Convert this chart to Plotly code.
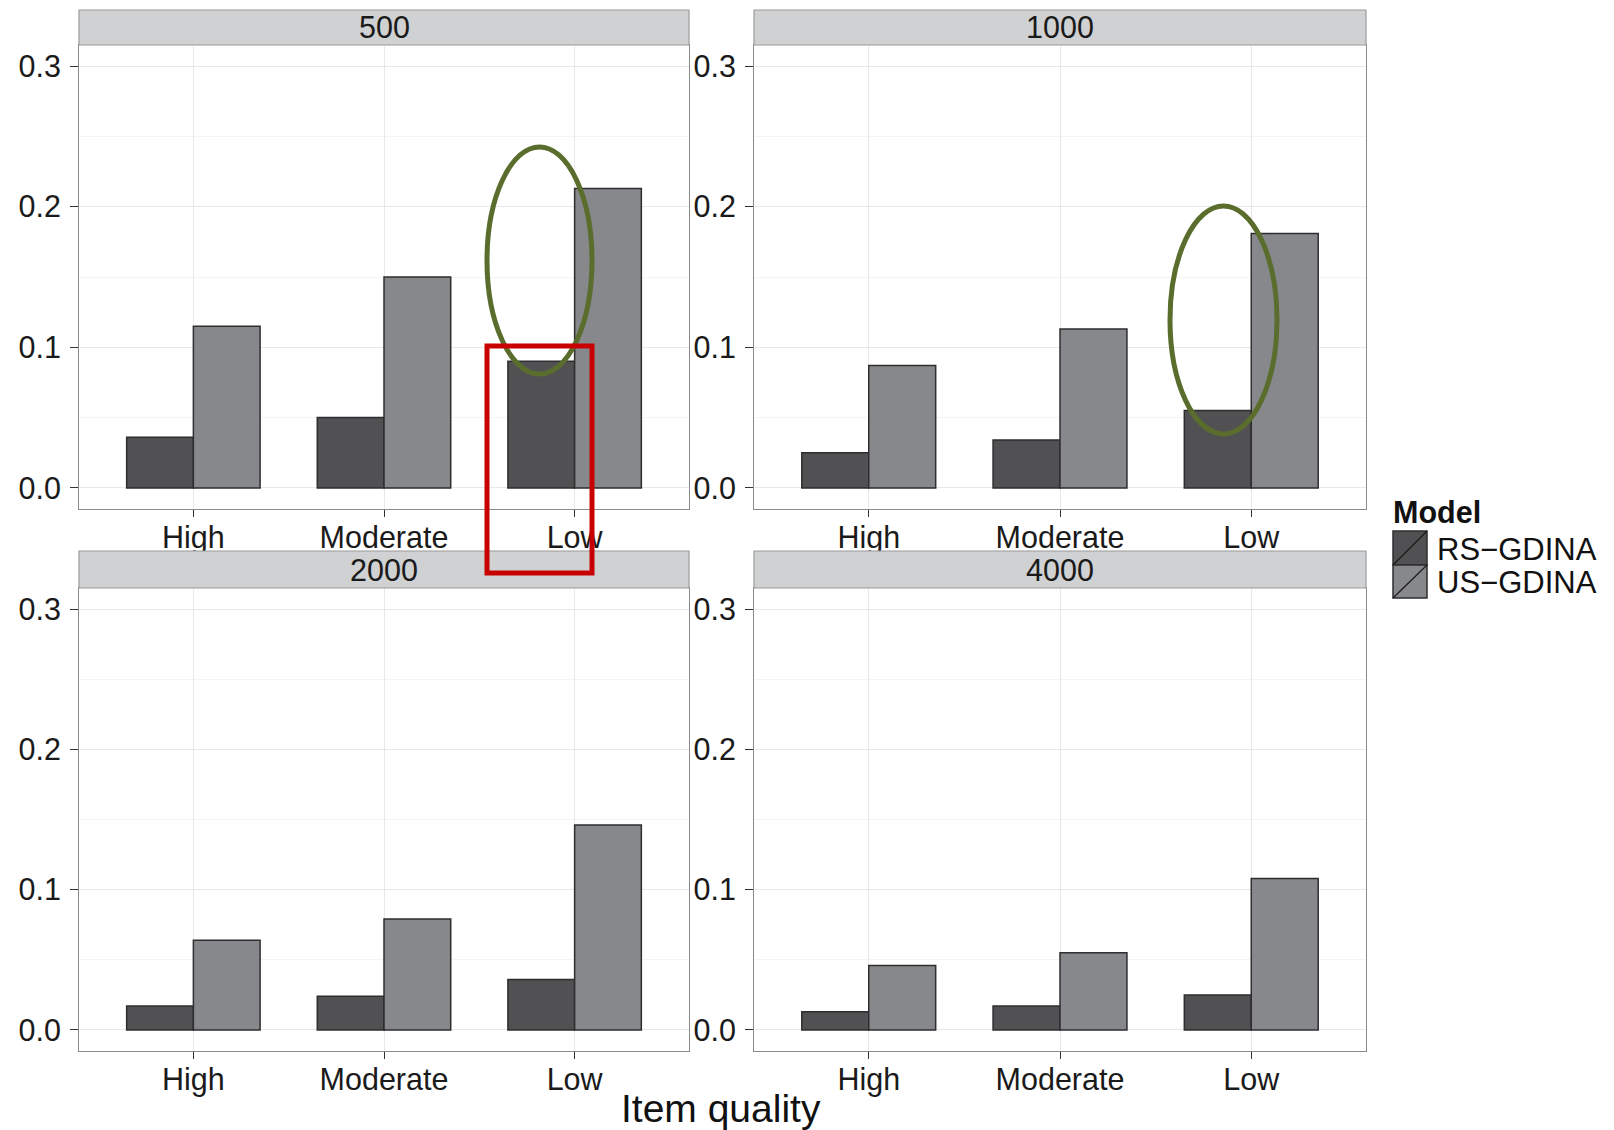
import plotly.graph_objects as go

# ---------------- data ----------------
categories = ["High", "Moderate", "Low"]
sample_sizes = ["500", "1000", "2000", "4000"]
models = ["RS\u2212GDINA", "US\u2212GDINA"]

rs_500 = [0.036, 0.050, 0.090]
us_500 = [0.115, 0.150, 0.213]
rs_1000 = [0.025, 0.034, 0.055]
us_1000 = [0.087, 0.113, 0.181]
rs_2000 = [0.017, 0.024, 0.036]
us_2000 = [0.064, 0.079, 0.146]
rs_4000 = [0.013, 0.017, 0.025]
us_4000 = [0.046, 0.055, 0.108]

y_ticks = [0.0, 0.1, 0.2, 0.3]

# ---------------- styling ----------------
W, H = 1614, 1130
FONT = "Liberation Sans, Arial, Helvetica, sans-serif"
RS_COL = "#515153"
US_COL = "#87888c"
EDGE = "#2e2e2e"
TICK_SIZE = 30.5


def fx(p):
    return p / W


def fy(p):
    return 1 - p / H


# panel pixel boxes: (x0, x1, ytop, ybottom, strip_top)
panels = [
    (79, 689, 45, 509, 10),
    (754, 1366, 45, 509, 10),
    (79, 689, 588, 1051, 551),
    (754, 1366, 588, 1051, 551),
]
series = [(rs_500, us_500), (rs_1000, us_1000), (rs_2000, us_2000), (rs_4000, us_4000)]

fig = go.Figure()
layout = dict(
    width=W, height=H,
    margin=dict(l=0, r=0, t=0, b=0),
    paper_bgcolor="white", plot_bgcolor="white",
    barmode="group", bargap=0.3, bargroupgap=0,
    showlegend=False,
    font=dict(family=FONT, color="#1a1a1a"),
)
shapes = []
annotations = []

for i, ((x0, x1, yt, yb, st), (rs, us)) in enumerate(zip(panels, series)):
    n = "" if i == 0 else str(i + 1)
    xa, ya = "x" + n, "y" + n
    fig.add_trace(go.Bar(x=categories, y=rs, name=models[0], xaxis=xa, yaxis=ya,
                         marker=dict(color=RS_COL, line=dict(color=EDGE, width=1.5)),
                         offsetgroup="rs"))
    fig.add_trace(go.Bar(x=categories, y=us, name=models[1], xaxis=xa, yaxis=ya,
                         marker=dict(color=US_COL, line=dict(color=EDGE, width=1.5)),
                         offsetgroup="us"))
    layout["xaxis" + n] = dict(
        domain=[fx(x0), fx(x1)], anchor=ya, type="category",
        categoryorder="array", categoryarray=categories,
        range=[-0.6, 2.6], showgrid=True, gridcolor="#e8e8e8", gridwidth=1,
        showline=True, mirror=True, linecolor="#8a8a8a", linewidth=1,
        ticks="outside", ticklen=7, tickcolor="#333333", tickwidth=1,
        ticklabelstandoff=-6,
        tickfont=dict(size=TICK_SIZE, color="#1a1a1a", family=FONT),
        zeroline=False, automargin=False, fixedrange=True,
    )
    layout["yaxis" + n] = dict(
        domain=[fy(yb), fy(yt)], anchor=xa,
        range=[-0.015, 0.315], tickvals=y_ticks, tickformat=".1f",
        showgrid=True, gridcolor="#e8e8e8", gridwidth=1,
        minor=dict(dtick=0.05, tick0=0, showgrid=True, gridcolor="#f4f4f4", ticks=""),
        showline=True, mirror=True, linecolor="#8a8a8a", linewidth=1,
        ticks="outside", ticklen=8, tickcolor="#333333", tickwidth=1,
        ticklabelstandoff=3,
        tickfont=dict(size=TICK_SIZE, color="#1a1a1a", family=FONT),
        zeroline=False, automargin=False, fixedrange=True,
    )
    # strip
    shapes.append(dict(type="rect", xref="paper", yref="paper",
                       x0=fx(x0), x1=fx(x1), y0=fy(yt), y1=fy(st),
                       fillcolor="#d0d1d3", line=dict(color="#9a9a9a", width=1.2),
                       layer="above"))
    annotations.append(dict(text=sample_sizes[i], xref="paper", yref="paper",
                            x=fx((x0 + x1) / 2), y=fy((yt + st) / 2),
                            xanchor="center", yanchor="middle", showarrow=False,
                            font=dict(size=TICK_SIZE, color="#1a1a1a", family=FONT)))

# x axis title
annotations.append(dict(text="Item quality", xref="paper", yref="paper",
                        x=fx(721), y=fy(1108), xanchor="center", yanchor="middle",
                        showarrow=False, font=dict(size=39, color="#111111", family=FONT)))

# manual legend
annotations.append(dict(text="<b>Model</b>", xref="paper", yref="paper",
                        x=fx(1391), y=fy(512), xanchor="left", yanchor="middle",
                        showarrow=False, font=dict(size=30.5, color="#111111", family=FONT)))
legend_rows = [(models[0], RS_COL, 531, 565), (models[1], US_COL, 565, 598)]
for label, col, t, b in legend_rows:
    shapes.append(dict(type="rect", xref="paper", yref="paper",
                       x0=fx(1393), x1=fx(1427), y0=fy(b), y1=fy(t),
                       fillcolor=col, line=dict(color=EDGE, width=1.5)))
    shapes.append(dict(type="line", xref="paper", yref="paper",
                       x0=fx(1393), x1=fx(1427), y0=fy(b), y1=fy(t),
                       line=dict(color="#1a1a1a", width=1.2)))
    annotations.append(dict(text=label, xref="paper", yref="paper",
                            x=fx(1435), y=fy((t + b) / 2 + 1), xanchor="left", yanchor="middle",
                            showarrow=False, font=dict(size=31, color="#111111", family=FONT)))

# highlight overlays (green ellipses, red box)
GREEN = "#5a6d2d"
RED = "#c80000"
shapes.append(dict(type="circle", xref="paper", yref="paper",
                   x0=fx(487), x1=fx(592), y0=fy(374), y1=fy(147),
                   line=dict(color=GREEN, width=5), layer="above"))
shapes.append(dict(type="circle", xref="paper", yref="paper",
                   x0=fx(1170), x1=fx(1277), y0=fy(434), y1=fy(206),
                   line=dict(color=GREEN, width=5), layer="above"))
shapes.append(dict(type="rect", xref="paper", yref="paper",
                   x0=fx(487), x1=fx(592), y0=fy(573), y1=fy(346),
                   line=dict(color=RED, width=5), layer="above"))

layout["shapes"] = shapes
layout["annotations"] = annotations
fig.update_layout(**layout)
fig.write_html(
    "out.html",
    config={"displayModeBar": False},
    post_script="document.body.style.margin='0px';document.body.style.overflow='hidden';",
)
